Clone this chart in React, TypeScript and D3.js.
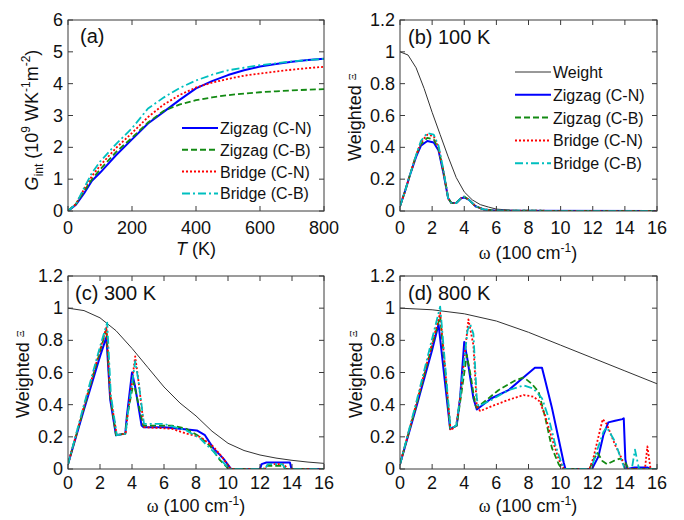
import React from 'react';
import * as d3 from 'd3';

type Pt = [number, number];

// ---- (a) integrated interfacial conductance vs temperature ----
const tempK = [0, 25, 50, 75, 100, 150, 200, 250, 300, 350, 400, 450, 500, 550, 600, 650, 700, 750, 800];
const gZigzagCN = [0, 0.2, 0.55, 0.95, 1.2, 1.75, 2.25, 2.75, 3.12, 3.5, 3.85, 4.08, 4.27, 4.42, 4.54, 4.62, 4.69, 4.74, 4.78];
const gZigzagCB = [0, 0.22, 0.62, 1.0, 1.3, 1.85, 2.3, 2.78, 3.15, 3.35, 3.48, 3.57, 3.64, 3.69, 3.73, 3.76, 3.79, 3.81, 3.83];
const gBridgeCN = [0, 0.22, 0.68, 1.1, 1.42, 1.98, 2.45, 2.95, 3.35, 3.65, 3.88, 4.03, 4.15, 4.25, 4.32, 4.38, 4.44, 4.49, 4.53];
const gBridgeCB = [0, 0.22, 0.72, 1.2, 1.55, 2.1, 2.6, 3.22, 3.57, 3.87, 4.1, 4.28, 4.42, 4.5, 4.58, 4.64, 4.7, 4.74, 4.78];

// ---- (b) 100 K ----
const weight100: Pt[] = [[0, 1], [0.5, 0.98], [1, 0.9], [1.5, 0.77], [2, 0.62], [2.5, 0.48], [3, 0.34], [3.5, 0.21], [4, 0.12], [4.5, 0.07], [5, 0.04], [5.5, 0.025], [6, 0.012], [7, 0.004], [8, 0.001], [9, 0], [16, 0]];
const zzCN100: Pt[] = [[0, 0.03], [0.3, 0.12], [0.6, 0.22], [1, 0.34], [1.3, 0.41], [1.7, 0.44], [2.1, 0.43], [2.4, 0.38], [2.7, 0.24], [3, 0.08], [3.2, 0.05], [3.5, 0.05], [3.8, 0.08], [4, 0.085], [4.3, 0.07], [4.7, 0.03], [5.2, 0.01], [6, 0.002], [16, 0]];
const zzCB100: Pt[] = [[0, 0.03], [0.3, 0.12], [0.6, 0.22], [1, 0.35], [1.3, 0.42], [1.7, 0.46], [2.1, 0.45], [2.4, 0.39], [2.7, 0.25], [3, 0.08], [3.2, 0.05], [3.5, 0.05], [3.8, 0.08], [4, 0.09], [4.3, 0.07], [4.7, 0.03], [5.2, 0.01], [6, 0.002], [16, 0]];
const brCN100: Pt[] = [[0, 0.03], [0.3, 0.12], [0.6, 0.22], [1, 0.35], [1.3, 0.43], [1.7, 0.48], [2.1, 0.47], [2.4, 0.4], [2.7, 0.25], [3, 0.08], [3.2, 0.05], [3.5, 0.05], [3.8, 0.08], [4, 0.09], [4.3, 0.07], [4.7, 0.03], [5.2, 0.01], [6, 0.002], [16, 0]];
const brCB100: Pt[] = [[0, 0.03], [0.3, 0.12], [0.6, 0.22], [1, 0.35], [1.3, 0.44], [1.7, 0.49], [2.1, 0.48], [2.4, 0.41], [2.7, 0.26], [3, 0.08], [3.2, 0.05], [3.5, 0.05], [3.8, 0.08], [4, 0.09], [4.3, 0.07], [4.7, 0.03], [5.2, 0.01], [6, 0.002], [16, 0]];

// ---- (c) 300 K ----
const weight300: Pt[] = [[0, 1], [1, 0.985], [2, 0.94], [3, 0.86], [4, 0.75], [5, 0.63], [6, 0.51], [7, 0.41], [8, 0.33], [9, 0.235], [10, 0.16], [11, 0.115], [12, 0.087], [13, 0.068], [14, 0.054], [15, 0.043], [16, 0.035]];
const zzCN300: Pt[] = [[0, 0.03], [1, 0.37], [2, 0.7], [2.4, 0.82], [2.64, 0.43], [3.0, 0.21], [3.58, 0.22], [3.68, 0.33], [4.0, 0.6], [4.2, 0.51], [4.6, 0.27], [4.72, 0.26], [6, 0.26], [7, 0.25], [8.05, 0.24], [8.56, 0.21], [9.08, 0.13], [9.7, 0.066], [10.12, 0.01], [10.2, 0], [12, 0], [12.1, 0.03], [12.4, 0.04], [13.87, 0.04], [13.97, 0], [16, 0]];
const zzCB300: Pt[] = [[0, 0.03], [1, 0.38], [2, 0.73], [2.4, 0.87], [2.64, 0.45], [3.0, 0.21], [3.58, 0.22], [3.7, 0.33], [4.1, 0.54], [4.3, 0.45], [4.7, 0.27], [6.5, 0.27], [7.4, 0.25], [8.25, 0.2], [8.9, 0.14], [9.5, 0.055], [9.9, 0.015], [10.0, 0], [12.2, 0], [12.4, 0.02], [13.4, 0.02], [13.6, 0], [16, 0]];
const brCN300: Pt[] = [[0, 0.03], [1, 0.39], [2, 0.74], [2.4, 0.88], [2.64, 0.46], [3.05, 0.21], [3.6, 0.22], [3.75, 0.35], [4.2, 0.7], [4.4, 0.55], [4.75, 0.26], [6.5, 0.25], [7.4, 0.22], [8.25, 0.2], [9.08, 0.14], [9.7, 0.066], [10.1, 0.01], [10.2, 0], [12.3, 0], [12.5, 0.03], [13.5, 0.03], [13.7, 0], [16, 0]];
const brCB300: Pt[] = [[0, 0.03], [1, 0.4], [2, 0.76], [2.45, 0.91], [2.68, 0.46], [3.05, 0.21], [3.6, 0.22], [3.75, 0.35], [4.2, 0.67], [4.4, 0.55], [4.75, 0.28], [6, 0.28], [7.4, 0.24], [8.25, 0.19], [9.08, 0.11], [9.8, 0.03], [10.1, 0], [12.3, 0], [12.5, 0.03], [13.4, 0.03], [13.6, 0], [16, 0]];

// ---- (d) 800 K ----
const weight800: Pt[] = [[0, 1], [2, 0.99], [4, 0.965], [6, 0.92], [8, 0.85], [10, 0.77], [12, 0.69], [14, 0.61], [16, 0.53]];
const zzCN800: Pt[] = [[0, 0.03], [1, 0.38], [2, 0.74], [2.4, 0.9], [3.12, 0.25], [3.53, 0.27], [3.74, 0.44], [4.0, 0.79], [4.2, 0.68], [4.57, 0.44], [4.78, 0.37], [5.7, 0.44], [6.76, 0.49], [7.7, 0.57], [8.4, 0.63], [8.84, 0.63], [9.04, 0.55], [9.46, 0.38], [9.87, 0.19], [10.19, 0.04], [10.3, 0], [11.95, 0], [12.35, 0.077], [12.66, 0.21], [12.97, 0.29], [13.39, 0.3], [13.85, 0.31], [13.93, 0.315], [14.03, 0.06], [14.14, 0], [14.6, 0.01], [15.4, 0.01], [15.6, 0], [16, 0]];
const zzCB800: Pt[] = [[0, 0.03], [1, 0.39], [2, 0.77], [2.5, 0.95], [3.12, 0.25], [3.53, 0.27], [3.75, 0.42], [4.16, 0.71], [4.4, 0.58], [4.68, 0.4], [4.78, 0.38], [6.13, 0.49], [7.17, 0.55], [7.7, 0.57], [8.2, 0.53], [8.63, 0.48], [9.04, 0.32], [9.46, 0.13], [9.88, 0.03], [10.08, 0], [11.8, 0], [12.0, 0.05], [12.3, 0.1], [12.6, 0.05], [12.9, 0.03], [13.3, 0.05], [13.7, 0.065], [14.0, 0.045], [14.2, 0.005], [14.3, 0], [16, 0]];
const brCN800: Pt[] = [[0, 0.03], [1, 0.4], [2, 0.78], [2.5, 0.97], [3.15, 0.24], [3.5, 0.27], [3.75, 0.45], [4.26, 0.93], [4.57, 0.77], [4.78, 0.39], [4.99, 0.36], [5.7, 0.39], [6.76, 0.43], [7.7, 0.46], [8.3, 0.45], [8.7, 0.42], [9.04, 0.33], [9.46, 0.19], [9.88, 0.06], [10.2, 0], [11.8, 0], [12.04, 0.07], [12.45, 0.24], [12.62, 0.31], [12.87, 0.28], [13.39, 0.15], [13.8, 0.066], [14.0, 0.005], [14.1, 0], [15.25, 0], [15.4, 0.14], [15.6, 0], [16, 0]];
const brCB800: Pt[] = [[0, 0.03], [1, 0.41], [2, 0.81], [2.5, 1.01], [3.15, 0.25], [3.5, 0.27], [3.75, 0.45], [4.2, 0.86], [4.37, 0.9], [4.57, 0.84], [4.78, 0.44], [4.88, 0.39], [5.7, 0.43], [6.76, 0.49], [7.7, 0.52], [8.3, 0.5], [8.84, 0.44], [9.25, 0.32], [9.67, 0.15], [10.08, 0.03], [10.2, 0], [11.9, 0], [12.25, 0.11], [12.66, 0.23], [12.87, 0.26], [13.39, 0.17], [13.8, 0.05], [14.0, 0], [14.43, 0], [14.63, 0.12], [14.88, 0], [16, 0]];

const seriesNames = ['Zigzag (C-N)', 'Zigzag (C-B)', 'Bridge (C-N)', 'Bridge (C-B)'];
const seriesColors = ['#0000ff', '#138a13', '#ff0000', '#00bfbf'];
const seriesDash = ['none', '6,3', '2,2', '8,3,2,3'];

const tempTicks = [0, 200, 400, 600, 800];
const gTicks = [0, 1, 2, 3, 4, 5, 6];
const omegaTicks = [0, 2, 4, 6, 8, 10, 12, 14, 16];
const weightTicks = [0, 0.2, 0.4, 0.6, 0.8, 1, 1.2];

const FONT = "'Liberation Sans', Arial, sans-serif";
const SERIF = "'Liberation Serif', 'DejaVu Serif', serif";
const FRAME = '#3a3a3a';

type Box = { left: number; top: number; right: number; bottom: number };

type LineSpec = { pts: Pt[]; color: string; dash: string; width: number };

function Panel(props: {
  box: Box;
  xDomain: [number, number];
  yDomain: [number, number];
  xTicks: number[];
  yTicks: number[];
  lines: LineSpec[];
  clipId: string;
  tickGap: number;
}) {
  const { box, xDomain, yDomain, xTicks, yTicks, lines, clipId, tickGap } = props;
  const x = d3.scaleLinear().domain(xDomain).range([box.left, box.right]);
  const y = d3.scaleLinear().domain(yDomain).range([box.bottom, box.top]);
  const line = d3
    .line<Pt>()
    .x((d) => x(d[0]))
    .y((d) => y(d[1]));
  const fmt = (v: number) => String(+v.toFixed(1));
  const tl = 5;
  return (
    <g>
      <defs>
        <clipPath id={clipId}>
          <rect x={box.left} y={box.top - 2} width={box.right - box.left} height={box.bottom - box.top + 2} />
        </clipPath>
      </defs>
      <g clipPath={`url(#${clipId})`}>
        {lines.map((l, i) => (
          <path
            key={i}
            d={line(l.pts) || ''}
            fill="none"
            stroke={l.color}
            strokeWidth={l.width}
            strokeDasharray={l.dash}
            strokeLinejoin="round"
          />
        ))}
      </g>
      <rect
        x={box.left}
        y={box.top}
        width={box.right - box.left}
        height={box.bottom - box.top}
        fill="none"
        stroke={FRAME}
        strokeWidth={1}
      />
      {xTicks.map((t) => (
        <g key={'x' + t}>
          <line x1={x(t)} x2={x(t)} y1={box.bottom} y2={box.bottom - tl} stroke={FRAME} />
          <line x1={x(t)} x2={x(t)} y1={box.top} y2={box.top + tl} stroke={FRAME} />
          <text x={x(t)} y={box.bottom + tickGap} textAnchor="middle" fontSize={18} fontFamily={FONT} fill="#111">
            {fmt(t)}
          </text>
        </g>
      ))}
      {yTicks.map((t) => (
        <g key={'y' + t}>
          <line x1={box.left} x2={box.left + tl} y1={y(t)} y2={y(t)} stroke={FRAME} />
          <line x1={box.right} x2={box.right - tl} y1={y(t)} y2={y(t)} stroke={FRAME} />
          <text x={box.left - 5} y={y(t) + 6} textAnchor="end" fontSize={18} fontFamily={FONT} fill="#111">
            {fmt(t)}
          </text>
        </g>
      ))}
    </g>
  );
}

function Legend(props: { x: number; y: number; step: number; items: { name: string; color: string; dash: string; width: number }[] }) {
  const { x, y, step, items } = props;
  return (
    <g>
      {items.map((it, i) => (
        <g key={it.name}>
          <line x1={x} x2={x + 36} y1={y + i * step} y2={y + i * step} stroke={it.color} strokeWidth={it.width} strokeDasharray={it.dash} />
          <text x={x + 38} y={y + i * step + 6} fontSize={16} fontFamily={FONT} fill="#111">
            {it.name}
          </text>
        </g>
      ))}
    </g>
  );
}

function OmegaLabel(props: { cx: number; y: number }) {
  return (
    <text x={props.cx} y={props.y} textAnchor="middle" fontSize={18} fontFamily={FONT} fill="#111">
      <tspan fontFamily={SERIF}>ω</tspan>
      <tspan> (100 cm</tspan>
      <tspan fontSize={12} dy={-7}>-1</tspan>
      <tspan dy={7}>)</tspan>
    </text>
  );
}

function WeightedLabel(props: { x: number; cy: number }) {
  return (
    <text
      transform={`translate(${props.x},${props.cy}) rotate(-90)`}
      textAnchor="middle"
      fontSize={18}
      fontFamily={FONT}
      fill="#111"
    >
      <tspan>Weighted </tspan>
      <tspan fontSize={11} dy={-5} fontFamily={SERIF}>Ξ</tspan>
    </text>
  );
}

const boxA: Box = { left: 68, top: 20, right: 324, bottom: 211 };
const boxB: Box = { left: 400, top: 20, right: 657, bottom: 211 };
const boxC: Box = { left: 68, top: 276, right: 324, bottom: 469 };
const boxD: Box = { left: 400, top: 276, right: 657, bottom: 469 };

function spectral(weight: Pt[], sets: Pt[][]): LineSpec[] {
  return [
    { pts: weight, color: '#333', dash: 'none', width: 1 },
    ...sets.map((pts, i) => ({ pts, color: seriesColors[i], dash: seriesDash[i], width: i === 0 ? 2 : 1.8 })),
  ];
}

export default function App() {
  const gSeries = [gZigzagCN, gZigzagCB, gBridgeCN, gBridgeCB];
  const linesA: LineSpec[] = gSeries.map((vals, i) => ({
    pts: tempK.map((t, j) => [t, vals[j]] as Pt),
    color: seriesColors[i],
    dash: seriesDash[i],
    width: i === 0 ? 2 : 1.8,
  }));
  const legendItems = seriesNames.map((name, i) => ({
    name,
    color: seriesColors[i],
    dash: seriesDash[i],
    width: 2,
  }));

  return (
    <svg
      width={684}
      height={520}
      viewBox="0 0 684 520"
      style={{ position: 'absolute', left: 0, top: 0, background: '#fff' }}
    >
      <rect x={0} y={0} width={684} height={520} fill="#fff" />

      {/* (a) */}
      <Panel box={boxA} xDomain={[0, 800]} yDomain={[0, 6]} xTicks={tempTicks} yTicks={gTicks} lines={linesA} clipId="clipA" tickGap={23} />
      <text x={80} y={43} fontSize={20} fontFamily={FONT} fill="#111">(a)</text>
      <Legend x={182} y={128} step={21.8} items={legendItems} />
      <text x={196} y={255} textAnchor="middle" fontSize={18} fontFamily={FONT} fill="#111">
        <tspan fontStyle="italic">T</tspan>
        <tspan> (K)</tspan>
      </text>
      <text transform="translate(38,120) rotate(-90)" textAnchor="middle" fontSize={18} fontFamily={FONT} fill="#111">
        <tspan fontStyle="italic">G</tspan>
        <tspan fontSize={12} dy={5}>int</tspan>
        <tspan dy={-5}> (10</tspan>
        <tspan fontSize={12} dy={-8}>9</tspan>
        <tspan dy={8}> WK</tspan>
        <tspan fontSize={12} dy={-8}>-1</tspan>
        <tspan dy={8}>m</tspan>
        <tspan fontSize={12} dy={-8}>-2</tspan>
        <tspan dy={8}>)</tspan>
      </text>

      {/* (b) 100 K */}
      <Panel
        box={boxB}
        xDomain={[0, 16]}
        yDomain={[0, 1.2]}
        xTicks={omegaTicks}
        yTicks={weightTicks}
        lines={spectral(weight100, [zzCN100, zzCB100, brCN100, brCB100])}
        clipId="clipB"
        tickGap={23}
      />
      <text x={408} y={44} fontSize={20} fontFamily={FONT} fill="#111">(b) 100 K</text>
      <Legend
        x={515}
        y={72}
        step={22.8}
        items={[{ name: 'Weight', color: '#333', dash: 'none', width: 1 }, ...legendItems]}
      />
      <OmegaLabel cx={528} y={259} />
      <WeightedLabel x={361} cy={117} />

      {/* (c) 300 K */}
      <Panel
        box={boxC}
        xDomain={[0, 16]}
        yDomain={[0, 1.2]}
        xTicks={omegaTicks}
        yTicks={weightTicks}
        lines={spectral(weight300, [zzCN300, zzCB300, brCN300, brCB300])}
        clipId="clipC"
        tickGap={20}
      />
      <text x={75} y={300} fontSize={20} fontFamily={FONT} fill="#111">(c) 300 K</text>
      <OmegaLabel cx={196} y={512} />
      <WeightedLabel x={29} cy={374} />

      {/* (d) 800 K */}
      <Panel
        box={boxD}
        xDomain={[0, 16]}
        yDomain={[0, 1.2]}
        xTicks={omegaTicks}
        yTicks={weightTicks}
        lines={spectral(weight800, [zzCN800, zzCB800, brCN800, brCB800])}
        clipId="clipD"
        tickGap={20}
      />
      <text x={408} y={300} fontSize={20} fontFamily={FONT} fill="#111">(d) 800 K</text>
      <OmegaLabel cx={528} y={512} />
      <WeightedLabel x={362} cy={374} />
    </svg>
  );
}
